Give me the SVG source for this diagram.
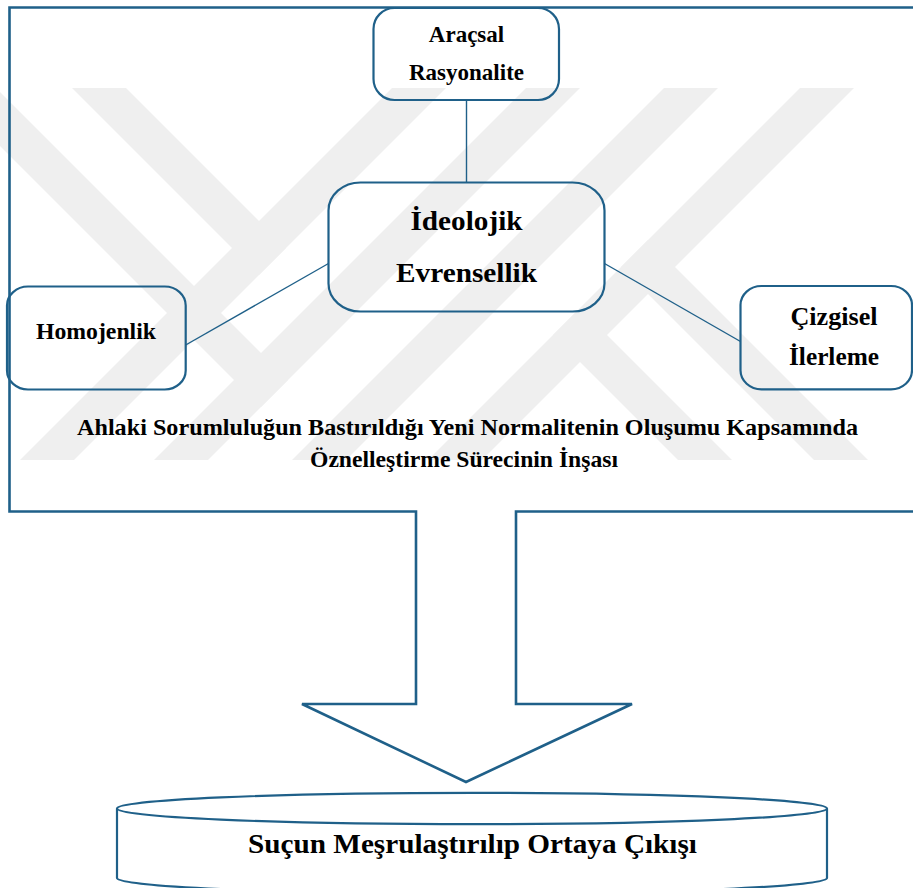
<svg xmlns="http://www.w3.org/2000/svg" width="913" height="888" viewBox="0 0 913 888">
<defs>
<style>
.wm{fill:#efefef;stroke:none}
.box{fill:none;stroke:#1f6089;stroke-width:2.2}
.con{fill:none;stroke:#1f6089;stroke-width:1.4}
.frame{fill:none;stroke:#1f6089;stroke-width:2.6;stroke-linejoin:miter}
.t{font-family:"Liberation Serif","Times New Roman",serif;font-weight:bold;fill:#000;text-anchor:middle}
</style>
<clipPath id="wmclip"><rect x="0" y="88" width="913" height="372"/></clipPath>
</defs>
<rect width="913" height="888" fill="#fff"/>
<g id="watermark" clip-path="url(#wmclip)">
<polygon class="wm" points="392,88 446,88 74,460 20,460"/>
<polygon class="wm" points="526,88 580,88 208,460 154,460"/>
<polygon class="wm" points="664,88 718,88 346,460 292,460"/>
<polygon class="wm" points="800,88 854,88 482,460 428,460"/>
<polygon class="wm" points="72,88 126,88 286,248 259,275"/>
<polygon class="wm" points="-58,88 -4,88 288,380 261,407"/>
<polygon class="wm" points="648,240 868,460 814,460 621,267"/>
<polygon class="wm" points="580,308 732,460 678,460 553,335"/>
</g>
<g id="frame">
<path class="frame" d="M9.5,7.5 H925 V511.5 H516 V704 H632 L466,782 L302,704 H416 V511.5 H9.5 Z"/>
</g>
<g id="connectors">
<line class="con" x1="466.5" y1="100" x2="466.5" y2="182.5"/>
<line class="con" x1="185.7" y1="345" x2="328.5" y2="263.5"/>
<line class="con" x1="604.5" y1="263.5" x2="740.5" y2="341.5"/>
</g>
<g id="node-aracsal">
<rect class="box" x="373.5" y="8" width="185.5" height="92" rx="21" ry="21"/>
<text class="t" x="466.5" y="42" font-size="23">Araçsal</text>
<text class="t" x="466.5" y="80" font-size="23">Rasyonalite</text>
</g>
<g id="node-ideolojik">
<rect class="box" x="328.5" y="182.5" width="276" height="129" rx="32" ry="28"/>
<text class="t" x="466.5" y="230" font-size="28" textLength="112" lengthAdjust="spacingAndGlyphs">İdeolojik</text>
<text class="t" x="466.5" y="281.5" font-size="28" textLength="141" lengthAdjust="spacingAndGlyphs">Evrensellik</text>
</g>
<g id="node-homojenlik">
<rect class="box" x="7" y="286.5" width="178.7" height="103" rx="21" ry="19"/>
<text class="t" x="96" y="338.5" font-size="23" textLength="120" lengthAdjust="spacingAndGlyphs">Homojenlik</text>
</g>
<g id="node-cizgisel">
<rect class="box" x="740.5" y="286" width="171.5" height="103.3" rx="21" ry="19"/>
<text class="t" x="834" y="325" font-size="25" textLength="87" lengthAdjust="spacingAndGlyphs">Çizgisel</text>
<text class="t" x="834" y="365" font-size="25" textLength="90" lengthAdjust="spacingAndGlyphs">İlerleme</text>
</g>
<g id="label-main">
<text class="t" x="467.5" y="435" font-size="22.5" textLength="781" lengthAdjust="spacingAndGlyphs">Ahlaki Sorumluluğun Bastırıldığı Yeni Normalitenin Oluşumu Kapsamında</text>
<text class="t" x="464" y="467" font-size="22.5" textLength="308" lengthAdjust="spacingAndGlyphs">Öznelleştirme Sürecinin İnşası</text>
</g>
<g id="node-sucun">
<path class="box" d="M117,808.5 V878 A355,15.7 0 0 0 827,878 V808.5"/>
<ellipse class="box" cx="472" cy="808.5" rx="355" ry="15.7"/>
<text class="t" x="472.5" y="853" font-size="28" textLength="449" lengthAdjust="spacingAndGlyphs">Suçun Meşrulaştırılıp Ortaya Çıkışı</text>
</g>
</svg>
